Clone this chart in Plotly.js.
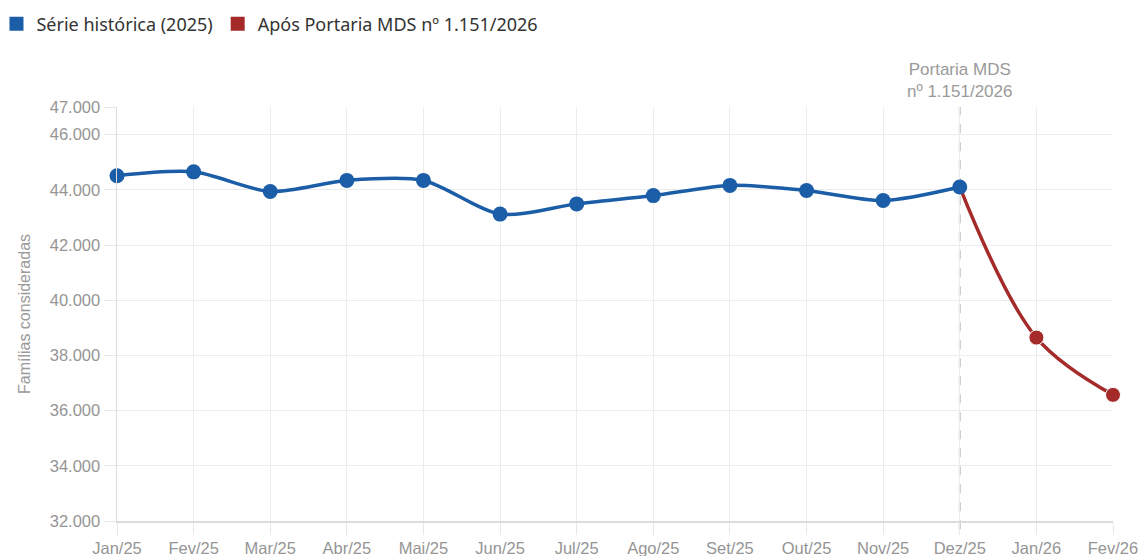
<!DOCTYPE html>
<html>
<head>
<meta charset="utf-8">
<script src="https://cdn.plot.ly/plotly-3.0.1.min.js"></script>
<style>html,body{margin:0;padding:0;background:#fff;}#chart{width:1142px;height:556px;}</style>
</head>
<body>
<div id="chart"></div>
<script>
const monthsHist = ['Jan/25','Fev/25','Mar/25','Abr/25','Mai/25','Jun/25','Jul/25','Ago/25','Set/25','Out/25','Nov/25','Dez/25'];
const valuesHist = [44510, 44650, 43940, 44340, 44340, 43120, 43490, 43790, 44160, 43975, 43610, 44100];
const monthsAfter = ['Jan/26','Fev/26'];
const valuesAfter = [38645, 36570];
const yTickVals = [32000, 34000, 36000, 38000, 40000, 42000, 44000, 46000, 47000];
const seriesNames = ['Série histórica (2025)', 'Após Portaria MDS nº 1.151/2026'];
const markerLabel = 'Portaria MDS<br>nº 1.151/2026';
const yTitle = 'Famílias consideradas';

const blue = '#1b5ea7';
const red = '#a52b2b';
const allMonths = monthsHist.concat(monthsAfter);
const lastHist = monthsHist[monthsHist.length - 1];

const redX = [lastHist].concat(monthsAfter);
const redY = [valuesHist[valuesHist.length - 1]].concat(valuesAfter);

const data = [
  {
    x: redX, y: redY, type: 'scatter', mode: 'lines+markers',
    line: {color: red, width: 3.5, shape: 'spline', smoothing: 1},
    marker: {color: red, opacity: 1, size: redX.map((m, i) => i === 0 ? 0 : 15)},
    showlegend: false, cliponaxis: false, hoverinfo: 'skip'
  },
  {
    x: monthsHist, y: valuesHist, type: 'scatter', mode: 'lines+markers',
    line: {color: blue, width: 3.5, shape: 'spline', smoothing: 0.8},
    marker: {color: blue, opacity: 1, size: 15},
    showlegend: false, cliponaxis: false, hoverinfo: 'skip'
  },
  {
    x: [null], y: [null], type: 'scatter', mode: 'markers', name: seriesNames[0],
    marker: {color: blue, size: 14, symbol: 'square'}, showlegend: true
  },
  {
    x: [null], y: [null], type: 'scatter', mode: 'markers', name: seriesNames[1],
    marker: {color: red, size: 14, symbol: 'square'}, showlegend: true
  }
];

const axisFont = {family: 'Liberation Sans, Arial, sans-serif', size: 16.5, color: '#959595'};

const layout = {
  width: 1142, height: 556,
  margin: {l: 117, r: 29, t: 107, b: 35, autoexpand: false},
  paper_bgcolor: '#fff', plot_bgcolor: '#fff',
  separators: ',.',
  showlegend: true,
  legend: {
    orientation: 'h', x: -0.121, xanchor: 'left', y: 1.245, yanchor: 'top',
    font: {family: 'Noto Sans, sans-serif', size: 18, color: '#333'},
    itemwidth: 30, traceorder: 'normal'
  },
  xaxis: {
    type: 'category', categoryorder: 'array', categoryarray: allMonths,
    tickvals: allMonths, range: [0, allMonths.length - 1],
    showgrid: true, gridcolor: '#ececec', gridwidth: 1,
    showline: true, linecolor: '#dcdcdc', linewidth: 1.5,
    ticks: 'outside', ticklen: 12, tickcolor: '#e8e8e8',
    tickfont: axisFont, zeroline: false, fixedrange: true, automargin: false
  },
  yaxis: {
    range: [32000, 47000], tickvals: yTickVals, tickformat: ',d',
    showgrid: true, gridcolor: '#ececec', gridwidth: 1,
    showline: true, linecolor: '#dcdcdc', linewidth: 1.5,
    ticks: 'outside', ticklen: 12, tickcolor: '#e8e8e8',
    tickfont: axisFont, zeroline: false, fixedrange: true, automargin: false,
    title: {text: yTitle, font: {family: 'Liberation Sans, Arial, sans-serif', size: 16, color: '#9a9a9a'}, standoff: 15}
  },
  shapes: [{
    type: 'line', xref: 'x', yref: 'paper', x0: lastHist, x1: lastHist, y0: -0.02, y1: 1,
    line: {color: '#c2c2c2', width: 2, dash: 'dash'}, layer: 'below'
  }],
  annotations: [{
    xref: 'x', yref: 'paper', x: lastHist, y: 1, yanchor: 'bottom', yshift: 4,
    text: markerLabel, showarrow: false, align: 'center',
    font: {family: 'Liberation Sans, Arial, sans-serif', size: 17, color: '#9a9a9a'}
  }]
};

Plotly.newPlot('chart', data, layout, {displayModeBar: false, staticPlot: true});
</script>
</body>
</html>
